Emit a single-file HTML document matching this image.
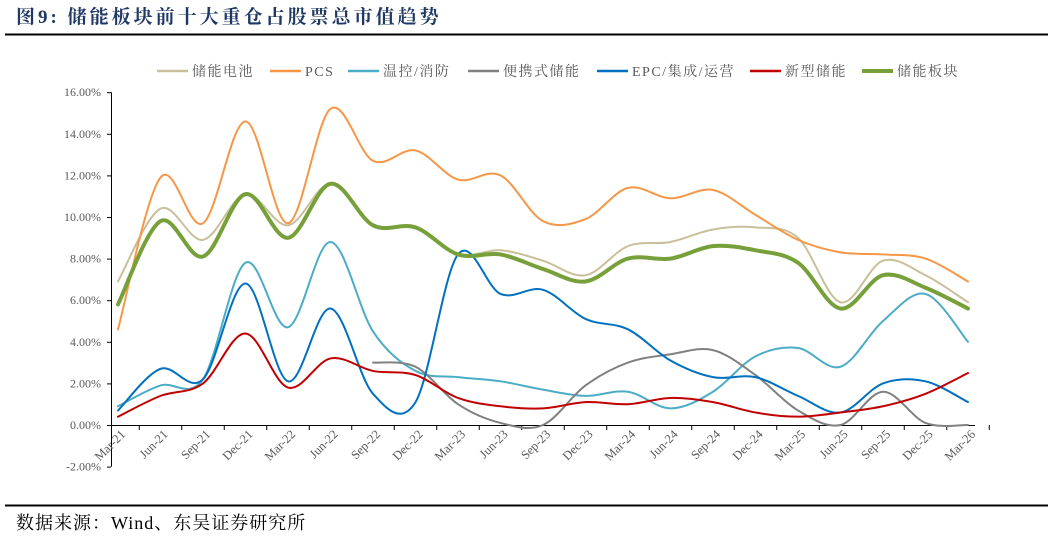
<!DOCTYPE html>
<html><head><meta charset="utf-8"><style>
body{margin:0;background:#fff;width:1053px;height:546px;overflow:hidden;font-family:"Liberation Serif","Noto Serif CJK SC",serif}
</style></head><body>
<svg width="1053" height="546" xmlns="http://www.w3.org/2000/svg">
<text x="16" y="23" font-size="19" font-weight="bold" letter-spacing="3" fill="#1f3864" font-family="Liberation Serif,Noto Serif CJK SC,serif">图9:  储能板块前十大重仓占股票总市值趋势</text>
<line x1="5" y1="34.5" x2="1048" y2="34.5" stroke="#000" stroke-width="2"/>
<line x1="5" y1="505.5" x2="1048" y2="505.5" stroke="#000" stroke-width="2"/>
<text x="16" y="529" font-size="18" letter-spacing="1" fill="#000" font-family="Liberation Serif,Noto Serif CJK SC,serif">数据来源：Wind、东吴证券研究所</text>
<g id="legend"></g>
<g id="axes"></g>
<g id="series"></g>
</svg>
<script>
const categories=["Mar-21","Jun-21","Sep-21","Dec-21","Mar-22","Jun-22","Sep-22","Dec-22","Mar-23","Jun-23","Sep-23","Dec-23","Mar-24","Jun-24","Sep-24","Dec-24","Mar-25","Jun-25","Sep-25","Dec-25","Mar-26"];
const yTicks=[-2,0,2,4,6,8,10,12,14,16];
const seriesNames=["储能电池","PCS","温控/消防","便携式储能","EPC/集成/运营","新型储能","储能板块"];
const battery=[6.9,10.4,8.9,11.1,9.6,11.6,9.6,9.5,8.2,8.4,7.9,7.2,8.6,8.8,9.4,9.5,9.0,5.9,7.9,7.2,5.9];
const pcs=[4.6,11.9,9.7,14.6,9.7,15.2,12.7,13.2,11.8,12.0,9.8,9.9,11.4,10.9,11.3,10.1,8.9,8.3,8.2,8.0,6.9];
const thermal=[0.9,1.9,2.2,7.8,4.7,8.8,4.5,2.6,2.3,2.1,1.7,1.4,1.6,0.8,1.6,3.3,3.7,2.8,5.0,6.3,4.0];
const portable=[null,null,null,null,null,null,3.0,2.8,1.0,0.1,0.0,1.9,3.0,3.4,3.6,2.4,0.7,0.0,1.6,0.1,0.0];
const epc=[0.7,2.7,2.2,6.8,2.1,5.6,1.5,1.1,8.2,6.3,6.5,5.1,4.6,3.1,2.3,2.3,1.4,0.6,2.0,2.1,1.1];
const newType=[0.4,1.4,2.0,4.4,1.8,3.2,2.6,2.4,1.3,0.9,0.8,1.1,1.0,1.3,1.1,0.6,0.4,0.6,0.9,1.5,2.5];
const sector=[5.8,9.8,8.1,11.1,9.0,11.6,9.6,9.5,8.2,8.2,7.5,6.9,8.0,8.0,8.6,8.4,7.8,5.6,7.2,6.6,5.6];

const NS="http://www.w3.org/2000/svg";
const colors=["#c9bf9a","#f79646","#4bacc6","#808080","#0070c0","#c00000","#77a03a"];
const widths=[2,2,2,2,2,2,4];
const data=[battery,pcs,thermal,portable,epc,newType,sector];
const X=i=>118+i*42.5;
const Y=v=>425-v*20.8;
function mk(tag,attrs,parent){const e=document.createElementNS(NS,tag);for(const k in attrs)e.setAttribute(k,attrs[k]);parent.appendChild(e);return e;}
const axes=document.getElementById('axes');
const l1=mk('line',{x1:111.5,y1:Y(16),x2:111.5,y2:Y(-2),stroke:'#000','stroke-width':1},axes);


const l2=mk('line',{x1:111,y1:Y(0)+0.5,x2:975,y2:Y(0)+0.5,stroke:'#000','stroke-width':1},axes);


yTicks.forEach(v=>{
  const t=mk('line',{x1:107,y1:Y(v)+0.5,x2:111,y2:Y(v)+0.5,stroke:'#000'},axes);
  
  
  const tx=mk('text',{x:101,y:Y(v)+4,'text-anchor':'end','font-size':12,fill:'#595959'},axes);
  tx.textContent=v.toFixed(2)+'%';
  
  
});
categories.forEach((c,i)=>{
  const tk=mk('line',{x1:X(i)+21.25,y1:Y(0),x2:X(i)+21.25,y2:Y(0)+5,stroke:'#000'},axes);
  
  
  const tx=mk('text',{x:X(i)+8,y:Y(0)+10,'text-anchor':'end','font-size':12.5,fill:'#595959',transform:`rotate(-45 ${X(i)+8} ${Y(0)+10})`},axes);
  tx.textContent=c;
  
  
});
function path(arr){
  let segs=[],cur=[];
  arr.forEach((v,i)=>{if(v==null){if(cur.length)segs.push(cur);cur=[];}else cur.push([X(i),Y(v)]);});
  if(cur.length)segs.push(cur);
  let d='';
  segs.forEach(p=>{
    d+=`M${p[0][0]},${p[0][1]}`;
    for(let i=0;i<p.length-1;i++){
      const p0=p[Math.max(i-1,0)],p1=p[i],p2=p[i+1],p3=p[Math.min(i+2,p.length-1)];
      const t=1/6;
      d+=` C${p1[0]+(p2[0]-p0[0])*t},${p1[1]+(p2[1]-p0[1])*t} ${p2[0]-(p3[0]-p1[0])*t},${p2[1]-(p3[1]-p1[1])*t} ${p2[0]},${p2[1]}`;
    }
  });
  return d;
}
const sg=document.getElementById('series');
data.forEach((arr,k)=>{
  const p=mk('path',{d:path(arr),fill:'none',stroke:colors[k],'stroke-width':widths[k],'stroke-linecap':'round'},sg);
  
  
});
const lg=document.getElementById('legend');
const lx=[157,270,348,468,597,750,862];
seriesNames.forEach((n,k)=>{
  const ln=mk('line',{x1:lx[k],y1:71,x2:lx[k]+31,y2:71,stroke:colors[k],'stroke-width':widths[k]==4?4:2.5},lg);
  
  
  const tx=mk('text',{x:lx[k]+35,y:76,'font-size':14,fill:'#595959','letter-spacing':'1.5'},lg);
  tx.textContent=n;
  
  
});
</script>
</body></html>
